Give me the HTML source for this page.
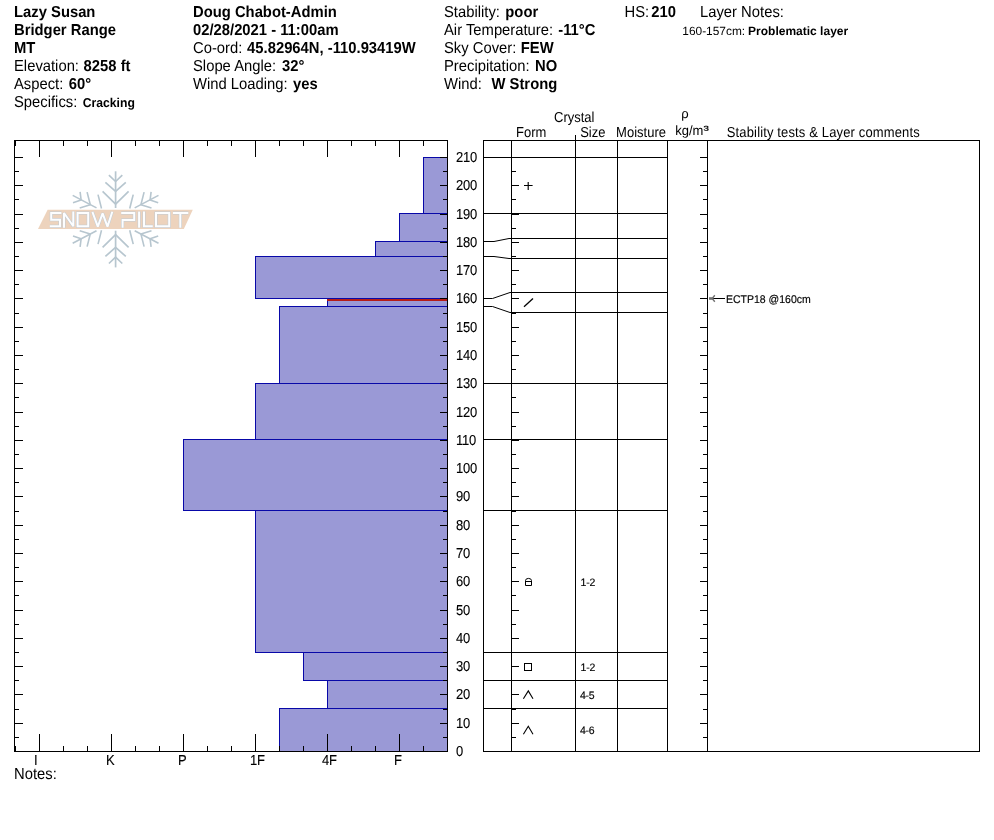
<!DOCTYPE html>
<html><head><meta charset="utf-8"><title>Snow Pilot profile</title>
<style>
html,body{margin:0;padding:0;background:#fff;}
body{width:994px;height:840px;overflow:hidden;}
svg{display:block;font-family:"Liberation Sans",sans-serif;text-rendering:geometricPrecision;will-change:transform;}
svg text{fill:#000;}
</style></head><body>
<svg width="994" height="840" viewBox="0 0 994 840">
<rect x="0" y="0" width="994" height="840" fill="#ffffff"/>
<text transform="translate(14,16.7) scale(1,1.07)" font-size="14.8" font-weight="bold">Lazy Susan</text>
<text transform="translate(14,34.7) scale(1,1.07)" font-size="14.8" font-weight="bold">Bridger Range</text>
<text transform="translate(14,52.7) scale(1,1.07)" font-size="14.8" font-weight="bold">MT</text>
<text transform="translate(14,70.7) scale(1,1.07)" font-size="14.8">Elevation:</text>
<text transform="translate(83.6,70.7) scale(1,1.07)" font-size="14.8" font-weight="bold">8258 ft</text>
<text transform="translate(14,88.7) scale(1,1.07)" font-size="14.8">Aspect:</text>
<text transform="translate(68.8,88.7) scale(1,1.07)" font-size="14.8" font-weight="bold">60°</text>
<text transform="translate(14,106.7) scale(1,1.07)" font-size="14.8">Specifics:</text>
<text transform="translate(82.7,106.7) scale(1,1.05)" font-size="12.2" font-weight="bold">Cracking</text>
<text transform="translate(193,16.7) scale(1,1.07)" font-size="14.8" font-weight="bold">Doug Chabot-Admin</text>
<text transform="translate(193,34.7) scale(1,1.07)" font-size="14.8" font-weight="bold">02/28/2021 - 11:00am</text>
<text transform="translate(193,52.7) scale(1,1.07)" font-size="14.8">Co-ord:</text>
<text transform="translate(247.1,52.7) scale(1,1.07)" font-size="14.8" font-weight="bold">45.82964N, -110.93419W</text>
<text transform="translate(193,70.7) scale(1,1.07)" font-size="14.8">Slope Angle:</text>
<text transform="translate(282.1,70.7) scale(1,1.07)" font-size="14.8" font-weight="bold">32°</text>
<text transform="translate(193,88.7) scale(1,1.07)" font-size="14.8">Wind Loading:</text>
<text transform="translate(293,88.7) scale(1,1.07)" font-size="14.8" font-weight="bold">yes</text>
<text transform="translate(444,16.7) scale(1,1.07)" font-size="14.8">Stability:</text>
<text transform="translate(505.3,16.7) scale(1,1.07)" font-size="14.8" font-weight="bold">poor</text>
<text transform="translate(444,34.7) scale(1,1.07)" font-size="14.8">Air Temperature:</text>
<text transform="translate(558.2,34.7) scale(1,1.07)" font-size="14.8" font-weight="bold">-11°C</text>
<text transform="translate(444,52.7) scale(1,1.07)" font-size="14.8">Sky Cover:</text>
<text transform="translate(520.8,52.7) scale(1,1.07)" font-size="14.8" font-weight="bold">FEW</text>
<text transform="translate(444,70.7) scale(1,1.07)" font-size="14.8">Precipitation:</text>
<text transform="translate(535.1,70.7) scale(1,1.07)" font-size="14.8" font-weight="bold">NO</text>
<text transform="translate(444,88.7) scale(1,1.07)" font-size="14.8">Wind:</text>
<text transform="translate(491.5,88.7) scale(1,1.07)" font-size="14.8" font-weight="bold">W Strong</text>
<text transform="translate(624.5,16.7) scale(1,1.07)" font-size="14.8">HS:</text>
<text transform="translate(651.2,16.7) scale(1,1.07)" font-size="14.8" font-weight="bold">210</text>
<text transform="translate(700,16.7) scale(1,1.07)" font-size="14.8">Layer Notes:</text>
<text transform="translate(682.3,34.7) scale(1,1.0)" font-size="11.9">160-157cm:</text>
<text transform="translate(748.1,34.7) scale(1,1.0)" font-size="12" font-weight="bold">Problematic layer</text>
<text transform="translate(554,122) scale(1,1.11)" font-size="13">Crystal</text>
<text transform="translate(516,137) scale(1,1.11)" font-size="13">Form</text>
<text transform="translate(580.2,137) scale(1,1.11)" font-size="13">Size</text>
<text transform="translate(616.1,137) scale(1,1.11)" font-size="13">Moisture</text>
<text transform="translate(681.3,118.2) scale(1,1.0)" font-size="13">ρ</text>
<text transform="translate(675.2,135) scale(1,1.04)" font-size="13">kg/m</text>
<text transform="translate(703.6,133.6) scale(1.28,0.95)" font-size="12.5" stroke="#000" stroke-width="0.2">³</text>
<text transform="translate(726.8,137) scale(1,1.11)" font-size="13" letter-spacing="0.14">Stability tests &amp; Layer comments</text>
<g id="logo">
<path d="M115.6,171.3 L115.6,208.0" stroke="#b7c6cf" stroke-width="1.7" fill="none" stroke-linecap="butt" stroke-linejoin="round"/>
<path d="M115.6,267.4 L115.6,230.7" stroke="#b7c6cf" stroke-width="1.7" fill="none" stroke-linecap="butt" stroke-linejoin="round"/>
<path d="M108.9,175.2 L115.6,181.5 L122.3,175.2" stroke="#b7c6cf" stroke-width="1.7" fill="none" stroke-linecap="butt" stroke-linejoin="round"/>
<path d="M108.9,263.5 L115.6,257.2 L122.3,263.5" stroke="#b7c6cf" stroke-width="1.7" fill="none" stroke-linecap="butt" stroke-linejoin="round"/>
<path d="M105.4,182.3 L115.6,191.4 L125.8,182.3" stroke="#b7c6cf" stroke-width="1.7" fill="none" stroke-linecap="butt" stroke-linejoin="round"/>
<path d="M105.4,256.4 L115.6,247.3 L125.8,256.4" stroke="#b7c6cf" stroke-width="1.7" fill="none" stroke-linecap="butt" stroke-linejoin="round"/>
<path d="M102.6,191.4 L115.6,204.1 L128.6,191.4" stroke="#b7c6cf" stroke-width="1.7" fill="none" stroke-linecap="butt" stroke-linejoin="round"/>
<path d="M102.6,247.3 L115.6,234.6 L128.6,247.3" stroke="#b7c6cf" stroke-width="1.7" fill="none" stroke-linecap="butt" stroke-linejoin="round"/>
<path d="M72.7,195.4 L96.5,207.9" stroke="#b7c6cf" stroke-width="1.6" fill="none" stroke-linecap="butt" stroke-linejoin="round"/>
<path d="M72.7,243.3 L96.5,230.8" stroke="#b7c6cf" stroke-width="1.6" fill="none" stroke-linecap="butt" stroke-linejoin="round"/>
<path d="M158.5,195.4 L134.7,207.9" stroke="#b7c6cf" stroke-width="1.6" fill="none" stroke-linecap="butt" stroke-linejoin="round"/>
<path d="M158.5,243.3 L134.7,230.8" stroke="#b7c6cf" stroke-width="1.6" fill="none" stroke-linecap="butt" stroke-linejoin="round"/>
<path d="M80.1,191.8 L81.1,199.9 L73.0,202.7" stroke="#b7c6cf" stroke-width="1.6" fill="none" stroke-linecap="butt" stroke-linejoin="round"/>
<path d="M80.1,246.9 L81.1,238.8 L73.0,236.0" stroke="#b7c6cf" stroke-width="1.6" fill="none" stroke-linecap="butt" stroke-linejoin="round"/>
<path d="M151.1,191.8 L150.1,199.9 L158.2,202.7" stroke="#b7c6cf" stroke-width="1.6" fill="none" stroke-linecap="butt" stroke-linejoin="round"/>
<path d="M151.1,246.9 L150.1,238.8 L158.2,236.0" stroke="#b7c6cf" stroke-width="1.6" fill="none" stroke-linecap="butt" stroke-linejoin="round"/>
<path d="M87.1,192.1 L90.3,204.8 L79.7,208.0" stroke="#b7c6cf" stroke-width="1.6" fill="none" stroke-linecap="butt" stroke-linejoin="round"/>
<path d="M87.1,246.6 L90.3,233.9 L79.7,230.7" stroke="#b7c6cf" stroke-width="1.6" fill="none" stroke-linecap="butt" stroke-linejoin="round"/>
<path d="M144.1,192.1 L140.9,204.8 L151.5,208.0" stroke="#b7c6cf" stroke-width="1.6" fill="none" stroke-linecap="butt" stroke-linejoin="round"/>
<path d="M144.1,246.6 L140.9,233.9 L151.5,230.7" stroke="#b7c6cf" stroke-width="1.6" fill="none" stroke-linecap="butt" stroke-linejoin="round"/>
<path d="M98.0,194.6 L101.5,208.5" stroke="#b7c6cf" stroke-width="1.6" fill="none" stroke-linecap="butt" stroke-linejoin="round"/>
<path d="M98.0,244.1 L101.5,230.2" stroke="#b7c6cf" stroke-width="1.6" fill="none" stroke-linecap="butt" stroke-linejoin="round"/>
<path d="M133.2,194.6 L129.7,208.5" stroke="#b7c6cf" stroke-width="1.6" fill="none" stroke-linecap="butt" stroke-linejoin="round"/>
<path d="M133.2,244.1 L129.7,230.2" stroke="#b7c6cf" stroke-width="1.6" fill="none" stroke-linecap="butt" stroke-linejoin="round"/>
<polygon points="47.6,209.7 192.8,209.7 183.8,229 38,229" fill="#edd3bd"/>
<path d="M61.4,213.0 H51.2 V219.7 H60.0 V226.3 H49.8" stroke="#c0ccd6" stroke-width="3.0" fill="none" stroke-linejoin="miter" stroke-miterlimit="1.5"/>
<path d="M64.0,227.70000000000002 V213.0 L73.3,226.3 V211.6" stroke="#c0ccd6" stroke-width="3.0" fill="none" stroke-linejoin="miter" stroke-miterlimit="1.5"/>
<path d="M77.6,213.0 H88.2 V226.3 H77.6 Z" stroke="#c0ccd6" stroke-width="3.0" fill="none" stroke-linejoin="miter" stroke-miterlimit="1.5"/>
<path d="M92.4,211.8 L97.8,226.60000000000002 L102.6,213.3 L107.5,226.60000000000002 L112.3,211.8" stroke="#c0ccd6" stroke-width="3.0" fill="none" stroke-linejoin="miter" stroke-miterlimit="1.5"/>
<path d="M121.2,213.0 H134.2 V220.0 H122.6 V227.70000000000002" stroke="#c0ccd6" stroke-width="3.0" fill="none" stroke-linejoin="miter" stroke-miterlimit="1.5"/>
<path d="M139.1,211.6 V227.70000000000002" stroke="#c0ccd6" stroke-width="3.0" fill="none" stroke-linejoin="miter" stroke-miterlimit="1.5"/>
<path d="M144.0,211.6 V226.3 H152.8" stroke="#c0ccd6" stroke-width="3.0" fill="none" stroke-linejoin="miter" stroke-miterlimit="1.5"/>
<path d="M156.0,213.0 H169.2 V226.3 H156.0 Z" stroke="#c0ccd6" stroke-width="3.0" fill="none" stroke-linejoin="miter" stroke-miterlimit="1.5"/>
<path d="M172.9,213.0 H188.3 M180.3,213.0 V227.70000000000002" stroke="#c0ccd6" stroke-width="3.0" fill="none" stroke-linejoin="miter" stroke-miterlimit="1.5"/>
<path d="M61.4,213.0 H51.2 V219.7 H60.0 V226.3 H49.8" stroke="#fdfeff" stroke-width="2.0" fill="none" stroke-linejoin="miter" stroke-miterlimit="1.5"/>
<path d="M64.0,227.70000000000002 V213.0 L73.3,226.3 V211.6" stroke="#fdfeff" stroke-width="2.0" fill="none" stroke-linejoin="miter" stroke-miterlimit="1.5"/>
<path d="M77.6,213.0 H88.2 V226.3 H77.6 Z" stroke="#fdfeff" stroke-width="2.0" fill="none" stroke-linejoin="miter" stroke-miterlimit="1.5"/>
<path d="M92.4,211.8 L97.8,226.60000000000002 L102.6,213.3 L107.5,226.60000000000002 L112.3,211.8" stroke="#fdfeff" stroke-width="2.0" fill="none" stroke-linejoin="miter" stroke-miterlimit="1.5"/>
<path d="M121.2,213.0 H134.2 V220.0 H122.6 V227.70000000000002" stroke="#fdfeff" stroke-width="2.0" fill="none" stroke-linejoin="miter" stroke-miterlimit="1.5"/>
<path d="M139.1,211.6 V227.70000000000002" stroke="#fdfeff" stroke-width="2.0" fill="none" stroke-linejoin="miter" stroke-miterlimit="1.5"/>
<path d="M144.0,211.6 V226.3 H152.8" stroke="#fdfeff" stroke-width="2.0" fill="none" stroke-linejoin="miter" stroke-miterlimit="1.5"/>
<path d="M156.0,213.0 H169.2 V226.3 H156.0 Z" stroke="#fdfeff" stroke-width="2.0" fill="none" stroke-linejoin="miter" stroke-miterlimit="1.5"/>
<path d="M172.9,213.0 H188.3 M180.3,213.0 V227.70000000000002" stroke="#fdfeff" stroke-width="2.0" fill="none" stroke-linejoin="miter" stroke-miterlimit="1.5"/>
</g>
<g shape-rendering="crispEdges">
<rect x="423" y="157" width="24" height="56" fill="#9a99d6"/>
<rect x="399" y="213" width="48" height="28" fill="#9a99d6"/>
<rect x="375" y="241" width="72" height="15" fill="#9a99d6"/>
<rect x="255" y="256" width="192" height="42" fill="#9a99d6"/>
<rect x="327" y="298" width="120" height="8" fill="#9a99d6"/>
<rect x="279" y="306" width="168" height="77" fill="#9a99d6"/>
<rect x="255" y="383" width="192" height="56" fill="#9a99d6"/>
<rect x="183" y="439" width="264" height="71" fill="#9a99d6"/>
<rect x="255" y="510" width="192" height="142" fill="#9a99d6"/>
<rect x="303" y="652" width="144" height="28" fill="#9a99d6"/>
<rect x="327" y="680" width="120" height="28" fill="#9a99d6"/>
<rect x="279" y="708" width="168" height="43" fill="#9a99d6"/>
<rect x="423" y="157" width="25" height="1" fill="#0808a8"/>
<rect x="423" y="213" width="25" height="1" fill="#0808a8"/>
<rect x="423" y="157" width="1" height="57" fill="#0808a8"/>
<rect x="399" y="213" width="49" height="1" fill="#0808a8"/>
<rect x="399" y="241" width="49" height="1" fill="#0808a8"/>
<rect x="399" y="213" width="1" height="29" fill="#0808a8"/>
<rect x="375" y="241" width="73" height="1" fill="#0808a8"/>
<rect x="375" y="256" width="73" height="1" fill="#0808a8"/>
<rect x="375" y="241" width="1" height="16" fill="#0808a8"/>
<rect x="255" y="256" width="193" height="1" fill="#0808a8"/>
<rect x="255" y="298" width="193" height="1" fill="#0808a8"/>
<rect x="255" y="256" width="1" height="43" fill="#0808a8"/>
<rect x="327" y="298" width="121" height="1" fill="#0808a8"/>
<rect x="327" y="306" width="121" height="1" fill="#0808a8"/>
<rect x="327" y="298" width="1" height="9" fill="#0808a8"/>
<rect x="279" y="306" width="169" height="1" fill="#0808a8"/>
<rect x="279" y="383" width="169" height="1" fill="#0808a8"/>
<rect x="279" y="306" width="1" height="78" fill="#0808a8"/>
<rect x="255" y="383" width="193" height="1" fill="#0808a8"/>
<rect x="255" y="439" width="193" height="1" fill="#0808a8"/>
<rect x="255" y="383" width="1" height="57" fill="#0808a8"/>
<rect x="183" y="439" width="265" height="1" fill="#0808a8"/>
<rect x="183" y="510" width="265" height="1" fill="#0808a8"/>
<rect x="183" y="439" width="1" height="72" fill="#0808a8"/>
<rect x="255" y="510" width="193" height="1" fill="#0808a8"/>
<rect x="255" y="652" width="193" height="1" fill="#0808a8"/>
<rect x="255" y="510" width="1" height="143" fill="#0808a8"/>
<rect x="303" y="652" width="145" height="1" fill="#0808a8"/>
<rect x="303" y="680" width="145" height="1" fill="#0808a8"/>
<rect x="303" y="652" width="1" height="29" fill="#0808a8"/>
<rect x="327" y="680" width="121" height="1" fill="#0808a8"/>
<rect x="327" y="708" width="121" height="1" fill="#0808a8"/>
<rect x="327" y="680" width="1" height="29" fill="#0808a8"/>
<rect x="279" y="708" width="169" height="1" fill="#0808a8"/>
<rect x="279" y="751" width="169" height="1" fill="#0808a8"/>
<rect x="279" y="708" width="1" height="44" fill="#0808a8"/>
<rect x="327" y="299" width="120" height="2" fill="#b41c18"/>
<rect x="14" y="140" width="434" height="1" fill="#000"/>
<rect x="14" y="751" width="434" height="1" fill="#000"/>
<rect x="14" y="140" width="1" height="612" fill="#000"/>
<rect x="447" y="140" width="1" height="612" fill="#000"/>
<rect x="15" y="140" width="1" height="6" fill="#000"/>
<rect x="15" y="746" width="1" height="6" fill="#000"/>
<rect x="39" y="140" width="1" height="17" fill="#000"/>
<rect x="39" y="734" width="1" height="18" fill="#000"/>
<rect x="63" y="140" width="1" height="6" fill="#000"/>
<rect x="63" y="746" width="1" height="6" fill="#000"/>
<rect x="87" y="140" width="1" height="6" fill="#000"/>
<rect x="87" y="746" width="1" height="6" fill="#000"/>
<rect x="111" y="140" width="1" height="17" fill="#000"/>
<rect x="111" y="734" width="1" height="18" fill="#000"/>
<rect x="135" y="140" width="1" height="6" fill="#000"/>
<rect x="135" y="746" width="1" height="6" fill="#000"/>
<rect x="159" y="140" width="1" height="6" fill="#000"/>
<rect x="159" y="746" width="1" height="6" fill="#000"/>
<rect x="183" y="140" width="1" height="17" fill="#000"/>
<rect x="183" y="734" width="1" height="18" fill="#000"/>
<rect x="207" y="140" width="1" height="6" fill="#000"/>
<rect x="207" y="746" width="1" height="6" fill="#000"/>
<rect x="231" y="140" width="1" height="6" fill="#000"/>
<rect x="231" y="746" width="1" height="6" fill="#000"/>
<rect x="255" y="140" width="1" height="17" fill="#000"/>
<rect x="255" y="734" width="1" height="18" fill="#000"/>
<rect x="279" y="140" width="1" height="6" fill="#000"/>
<rect x="279" y="746" width="1" height="6" fill="#000"/>
<rect x="303" y="140" width="1" height="6" fill="#000"/>
<rect x="303" y="746" width="1" height="6" fill="#000"/>
<rect x="327" y="140" width="1" height="17" fill="#000"/>
<rect x="327" y="734" width="1" height="18" fill="#000"/>
<rect x="351" y="140" width="1" height="6" fill="#000"/>
<rect x="351" y="746" width="1" height="6" fill="#000"/>
<rect x="375" y="140" width="1" height="6" fill="#000"/>
<rect x="375" y="746" width="1" height="6" fill="#000"/>
<rect x="399" y="140" width="1" height="17" fill="#000"/>
<rect x="399" y="734" width="1" height="18" fill="#000"/>
<rect x="423" y="140" width="1" height="6" fill="#000"/>
<rect x="423" y="746" width="1" height="6" fill="#000"/>
<rect x="447" y="140" width="1" height="6" fill="#000"/>
<rect x="447" y="746" width="1" height="6" fill="#000"/>
<rect x="14" y="751" width="9" height="1" fill="#000"/>
<rect x="440" y="751" width="8" height="1" fill="#000"/>
<rect x="14" y="737" width="5" height="1" fill="#000"/>
<rect x="443" y="737" width="5" height="1" fill="#000"/>
<rect x="14" y="723" width="9" height="1" fill="#000"/>
<rect x="440" y="723" width="8" height="1" fill="#000"/>
<rect x="14" y="709" width="5" height="1" fill="#000"/>
<rect x="443" y="709" width="5" height="1" fill="#000"/>
<rect x="14" y="694" width="9" height="1" fill="#000"/>
<rect x="440" y="694" width="8" height="1" fill="#000"/>
<rect x="14" y="680" width="5" height="1" fill="#000"/>
<rect x="443" y="680" width="5" height="1" fill="#000"/>
<rect x="14" y="666" width="9" height="1" fill="#000"/>
<rect x="440" y="666" width="8" height="1" fill="#000"/>
<rect x="14" y="652" width="5" height="1" fill="#000"/>
<rect x="443" y="652" width="5" height="1" fill="#000"/>
<rect x="14" y="638" width="9" height="1" fill="#000"/>
<rect x="440" y="638" width="8" height="1" fill="#000"/>
<rect x="14" y="624" width="5" height="1" fill="#000"/>
<rect x="443" y="624" width="5" height="1" fill="#000"/>
<rect x="14" y="610" width="9" height="1" fill="#000"/>
<rect x="440" y="610" width="8" height="1" fill="#000"/>
<rect x="14" y="595" width="5" height="1" fill="#000"/>
<rect x="443" y="595" width="5" height="1" fill="#000"/>
<rect x="14" y="581" width="9" height="1" fill="#000"/>
<rect x="440" y="581" width="8" height="1" fill="#000"/>
<rect x="14" y="567" width="5" height="1" fill="#000"/>
<rect x="443" y="567" width="5" height="1" fill="#000"/>
<rect x="14" y="553" width="9" height="1" fill="#000"/>
<rect x="440" y="553" width="8" height="1" fill="#000"/>
<rect x="14" y="539" width="5" height="1" fill="#000"/>
<rect x="443" y="539" width="5" height="1" fill="#000"/>
<rect x="14" y="525" width="9" height="1" fill="#000"/>
<rect x="440" y="525" width="8" height="1" fill="#000"/>
<rect x="14" y="511" width="5" height="1" fill="#000"/>
<rect x="443" y="511" width="5" height="1" fill="#000"/>
<rect x="14" y="496" width="9" height="1" fill="#000"/>
<rect x="440" y="496" width="8" height="1" fill="#000"/>
<rect x="14" y="482" width="5" height="1" fill="#000"/>
<rect x="443" y="482" width="5" height="1" fill="#000"/>
<rect x="14" y="468" width="9" height="1" fill="#000"/>
<rect x="440" y="468" width="8" height="1" fill="#000"/>
<rect x="14" y="454" width="5" height="1" fill="#000"/>
<rect x="443" y="454" width="5" height="1" fill="#000"/>
<rect x="14" y="440" width="9" height="1" fill="#000"/>
<rect x="440" y="440" width="8" height="1" fill="#000"/>
<rect x="14" y="426" width="5" height="1" fill="#000"/>
<rect x="443" y="426" width="5" height="1" fill="#000"/>
<rect x="14" y="412" width="9" height="1" fill="#000"/>
<rect x="440" y="412" width="8" height="1" fill="#000"/>
<rect x="14" y="397" width="5" height="1" fill="#000"/>
<rect x="443" y="397" width="5" height="1" fill="#000"/>
<rect x="14" y="383" width="9" height="1" fill="#000"/>
<rect x="440" y="383" width="8" height="1" fill="#000"/>
<rect x="14" y="369" width="5" height="1" fill="#000"/>
<rect x="443" y="369" width="5" height="1" fill="#000"/>
<rect x="14" y="355" width="9" height="1" fill="#000"/>
<rect x="440" y="355" width="8" height="1" fill="#000"/>
<rect x="14" y="341" width="5" height="1" fill="#000"/>
<rect x="443" y="341" width="5" height="1" fill="#000"/>
<rect x="14" y="327" width="9" height="1" fill="#000"/>
<rect x="440" y="327" width="8" height="1" fill="#000"/>
<rect x="14" y="313" width="5" height="1" fill="#000"/>
<rect x="443" y="313" width="5" height="1" fill="#000"/>
<rect x="14" y="298" width="9" height="1" fill="#000"/>
<rect x="440" y="298" width="8" height="1" fill="#000"/>
<rect x="14" y="284" width="5" height="1" fill="#000"/>
<rect x="443" y="284" width="5" height="1" fill="#000"/>
<rect x="14" y="270" width="9" height="1" fill="#000"/>
<rect x="440" y="270" width="8" height="1" fill="#000"/>
<rect x="14" y="256" width="5" height="1" fill="#000"/>
<rect x="443" y="256" width="5" height="1" fill="#000"/>
<rect x="14" y="242" width="9" height="1" fill="#000"/>
<rect x="440" y="242" width="8" height="1" fill="#000"/>
<rect x="14" y="228" width="5" height="1" fill="#000"/>
<rect x="443" y="228" width="5" height="1" fill="#000"/>
<rect x="14" y="214" width="9" height="1" fill="#000"/>
<rect x="440" y="214" width="8" height="1" fill="#000"/>
<rect x="14" y="199" width="5" height="1" fill="#000"/>
<rect x="443" y="199" width="5" height="1" fill="#000"/>
<rect x="14" y="185" width="9" height="1" fill="#000"/>
<rect x="440" y="185" width="8" height="1" fill="#000"/>
<rect x="14" y="171" width="5" height="1" fill="#000"/>
<rect x="443" y="171" width="5" height="1" fill="#000"/>
<rect x="14" y="157" width="9" height="1" fill="#000"/>
<rect x="440" y="157" width="8" height="1" fill="#000"/>
<rect x="483" y="140" width="497" height="1" fill="#000"/>
<rect x="483" y="751" width="497" height="1" fill="#000"/>
<rect x="483" y="140" width="1" height="612" fill="#000"/>
<rect x="979" y="140" width="1" height="612" fill="#000"/>
<rect x="511" y="140" width="1" height="612" fill="#000"/>
<rect x="575" y="135" width="1" height="617" fill="#000"/>
<rect x="617" y="140" width="1" height="612" fill="#000"/>
<rect x="667" y="140" width="1" height="612" fill="#000"/>
<rect x="707" y="140" width="1" height="612" fill="#000"/>
<rect x="511" y="157" width="157" height="1" fill="#000"/>
<rect x="511" y="213" width="157" height="1" fill="#000"/>
<rect x="511" y="238" width="157" height="1" fill="#000"/>
<rect x="511" y="258" width="157" height="1" fill="#000"/>
<rect x="511" y="292" width="157" height="1" fill="#000"/>
<rect x="511" y="312" width="157" height="1" fill="#000"/>
<rect x="511" y="383" width="157" height="1" fill="#000"/>
<rect x="511" y="439" width="157" height="1" fill="#000"/>
<rect x="511" y="510" width="157" height="1" fill="#000"/>
<rect x="511" y="652" width="157" height="1" fill="#000"/>
<rect x="511" y="680" width="157" height="1" fill="#000"/>
<rect x="511" y="708" width="157" height="1" fill="#000"/>
<rect x="483" y="157" width="29" height="1" fill="#000"/>
<rect x="483" y="213" width="29" height="1" fill="#000"/>
<rect x="483" y="383" width="29" height="1" fill="#000"/>
<rect x="483" y="439" width="29" height="1" fill="#000"/>
<rect x="483" y="510" width="29" height="1" fill="#000"/>
<rect x="483" y="652" width="29" height="1" fill="#000"/>
<rect x="483" y="680" width="29" height="1" fill="#000"/>
<rect x="483" y="708" width="29" height="1" fill="#000"/>
<rect x="511" y="751" width="8" height="1" fill="#000"/>
<rect x="700" y="751" width="8" height="1" fill="#000"/>
<rect x="511" y="737" width="5" height="1" fill="#000"/>
<rect x="703" y="737" width="5" height="1" fill="#000"/>
<rect x="511" y="723" width="8" height="1" fill="#000"/>
<rect x="700" y="723" width="8" height="1" fill="#000"/>
<rect x="511" y="709" width="5" height="1" fill="#000"/>
<rect x="703" y="709" width="5" height="1" fill="#000"/>
<rect x="511" y="694" width="8" height="1" fill="#000"/>
<rect x="700" y="694" width="8" height="1" fill="#000"/>
<rect x="511" y="680" width="5" height="1" fill="#000"/>
<rect x="703" y="680" width="5" height="1" fill="#000"/>
<rect x="511" y="666" width="8" height="1" fill="#000"/>
<rect x="700" y="666" width="8" height="1" fill="#000"/>
<rect x="511" y="652" width="5" height="1" fill="#000"/>
<rect x="703" y="652" width="5" height="1" fill="#000"/>
<rect x="511" y="638" width="8" height="1" fill="#000"/>
<rect x="700" y="638" width="8" height="1" fill="#000"/>
<rect x="511" y="624" width="5" height="1" fill="#000"/>
<rect x="703" y="624" width="5" height="1" fill="#000"/>
<rect x="511" y="610" width="8" height="1" fill="#000"/>
<rect x="700" y="610" width="8" height="1" fill="#000"/>
<rect x="511" y="595" width="5" height="1" fill="#000"/>
<rect x="703" y="595" width="5" height="1" fill="#000"/>
<rect x="511" y="581" width="8" height="1" fill="#000"/>
<rect x="700" y="581" width="8" height="1" fill="#000"/>
<rect x="511" y="567" width="5" height="1" fill="#000"/>
<rect x="703" y="567" width="5" height="1" fill="#000"/>
<rect x="511" y="553" width="8" height="1" fill="#000"/>
<rect x="700" y="553" width="8" height="1" fill="#000"/>
<rect x="511" y="539" width="5" height="1" fill="#000"/>
<rect x="703" y="539" width="5" height="1" fill="#000"/>
<rect x="511" y="525" width="8" height="1" fill="#000"/>
<rect x="700" y="525" width="8" height="1" fill="#000"/>
<rect x="511" y="511" width="5" height="1" fill="#000"/>
<rect x="703" y="511" width="5" height="1" fill="#000"/>
<rect x="511" y="496" width="8" height="1" fill="#000"/>
<rect x="700" y="496" width="8" height="1" fill="#000"/>
<rect x="511" y="482" width="5" height="1" fill="#000"/>
<rect x="703" y="482" width="5" height="1" fill="#000"/>
<rect x="511" y="468" width="8" height="1" fill="#000"/>
<rect x="700" y="468" width="8" height="1" fill="#000"/>
<rect x="511" y="454" width="5" height="1" fill="#000"/>
<rect x="703" y="454" width="5" height="1" fill="#000"/>
<rect x="511" y="440" width="8" height="1" fill="#000"/>
<rect x="700" y="440" width="8" height="1" fill="#000"/>
<rect x="511" y="426" width="5" height="1" fill="#000"/>
<rect x="703" y="426" width="5" height="1" fill="#000"/>
<rect x="511" y="412" width="8" height="1" fill="#000"/>
<rect x="700" y="412" width="8" height="1" fill="#000"/>
<rect x="511" y="397" width="5" height="1" fill="#000"/>
<rect x="703" y="397" width="5" height="1" fill="#000"/>
<rect x="511" y="383" width="8" height="1" fill="#000"/>
<rect x="700" y="383" width="8" height="1" fill="#000"/>
<rect x="511" y="369" width="5" height="1" fill="#000"/>
<rect x="703" y="369" width="5" height="1" fill="#000"/>
<rect x="511" y="355" width="8" height="1" fill="#000"/>
<rect x="700" y="355" width="8" height="1" fill="#000"/>
<rect x="511" y="341" width="5" height="1" fill="#000"/>
<rect x="703" y="341" width="5" height="1" fill="#000"/>
<rect x="511" y="327" width="8" height="1" fill="#000"/>
<rect x="700" y="327" width="8" height="1" fill="#000"/>
<rect x="511" y="313" width="5" height="1" fill="#000"/>
<rect x="703" y="313" width="5" height="1" fill="#000"/>
<rect x="511" y="298" width="8" height="1" fill="#000"/>
<rect x="700" y="298" width="8" height="1" fill="#000"/>
<rect x="511" y="284" width="5" height="1" fill="#000"/>
<rect x="703" y="284" width="5" height="1" fill="#000"/>
<rect x="511" y="270" width="8" height="1" fill="#000"/>
<rect x="700" y="270" width="8" height="1" fill="#000"/>
<rect x="511" y="256" width="5" height="1" fill="#000"/>
<rect x="703" y="256" width="5" height="1" fill="#000"/>
<rect x="511" y="242" width="8" height="1" fill="#000"/>
<rect x="700" y="242" width="8" height="1" fill="#000"/>
<rect x="511" y="228" width="5" height="1" fill="#000"/>
<rect x="703" y="228" width="5" height="1" fill="#000"/>
<rect x="511" y="214" width="8" height="1" fill="#000"/>
<rect x="700" y="214" width="8" height="1" fill="#000"/>
<rect x="511" y="199" width="5" height="1" fill="#000"/>
<rect x="703" y="199" width="5" height="1" fill="#000"/>
<rect x="511" y="185" width="8" height="1" fill="#000"/>
<rect x="700" y="185" width="8" height="1" fill="#000"/>
<rect x="511" y="171" width="5" height="1" fill="#000"/>
<rect x="703" y="171" width="5" height="1" fill="#000"/>
<rect x="511" y="157" width="8" height="1" fill="#000"/>
<rect x="700" y="157" width="8" height="1" fill="#000"/>
<rect x="524" y="663" width="8" height="1" fill="#000"/>
<rect x="524" y="670" width="8" height="1" fill="#000"/>
<rect x="524" y="663" width="1" height="8" fill="#000"/>
<rect x="531" y="663" width="1" height="8" fill="#000"/>
</g>
<path d="M483,241.5 L494,241.5 L509,238.5 L511,238.5" stroke="#000" stroke-width="1" fill="none"/>
<path d="M483,256.5 L494,256.5 L509,258.5 L511,258.5" stroke="#000" stroke-width="1" fill="none"/>
<path d="M483,298.5 L492.5,298.5 L510,292.5 L511,292.5" stroke="#000" stroke-width="1" fill="none"/>
<path d="M483,306.5 L492.5,306.5 L510,312.5 L511,312.5" stroke="#000" stroke-width="1" fill="none"/>
<text transform="translate(456.0,755.9) scale(1,1.11)" font-size="13" letter-spacing="-0.23" stroke="#000" stroke-width="0.1">0</text>
<text transform="translate(456.0,727.9) scale(1,1.11)" font-size="13" letter-spacing="-0.23" stroke="#000" stroke-width="0.1">10</text>
<text transform="translate(456.0,698.9) scale(1,1.11)" font-size="13" letter-spacing="-0.23" stroke="#000" stroke-width="0.1">20</text>
<text transform="translate(456.0,670.9) scale(1,1.11)" font-size="13" letter-spacing="-0.23" stroke="#000" stroke-width="0.1">30</text>
<text transform="translate(456.0,642.9) scale(1,1.11)" font-size="13" letter-spacing="-0.23" stroke="#000" stroke-width="0.1">40</text>
<text transform="translate(456.0,614.9) scale(1,1.11)" font-size="13" letter-spacing="-0.23" stroke="#000" stroke-width="0.1">50</text>
<text transform="translate(456.0,585.9) scale(1,1.11)" font-size="13" letter-spacing="-0.23" stroke="#000" stroke-width="0.1">60</text>
<text transform="translate(456.0,557.9) scale(1,1.11)" font-size="13" letter-spacing="-0.23" stroke="#000" stroke-width="0.1">70</text>
<text transform="translate(456.0,529.9) scale(1,1.11)" font-size="13" letter-spacing="-0.23" stroke="#000" stroke-width="0.1">80</text>
<text transform="translate(456.0,500.9) scale(1,1.11)" font-size="13" letter-spacing="-0.23" stroke="#000" stroke-width="0.1">90</text>
<text transform="translate(456.0,472.9) scale(1,1.11)" font-size="13" letter-spacing="-0.23" stroke="#000" stroke-width="0.1">100</text>
<text transform="translate(456.0,444.9) scale(1,1.11)" font-size="13" letter-spacing="-0.23" stroke="#000" stroke-width="0.1">110</text>
<text transform="translate(456.0,416.9) scale(1,1.11)" font-size="13" letter-spacing="-0.23" stroke="#000" stroke-width="0.1">120</text>
<text transform="translate(456.0,387.9) scale(1,1.11)" font-size="13" letter-spacing="-0.23" stroke="#000" stroke-width="0.1">130</text>
<text transform="translate(456.0,359.9) scale(1,1.11)" font-size="13" letter-spacing="-0.23" stroke="#000" stroke-width="0.1">140</text>
<text transform="translate(456.0,331.9) scale(1,1.11)" font-size="13" letter-spacing="-0.23" stroke="#000" stroke-width="0.1">150</text>
<text transform="translate(456.0,302.9) scale(1,1.11)" font-size="13" letter-spacing="-0.23" stroke="#000" stroke-width="0.1">160</text>
<text transform="translate(456.0,274.9) scale(1,1.11)" font-size="13" letter-spacing="-0.23" stroke="#000" stroke-width="0.1">170</text>
<text transform="translate(456.0,246.9) scale(1,1.11)" font-size="13" letter-spacing="-0.23" stroke="#000" stroke-width="0.1">180</text>
<text transform="translate(456.0,218.9) scale(1,1.11)" font-size="13" letter-spacing="-0.23" stroke="#000" stroke-width="0.1">190</text>
<text transform="translate(456.0,189.9) scale(1,1.11)" font-size="13" letter-spacing="-0.23" stroke="#000" stroke-width="0.1">200</text>
<text transform="translate(456.0,161.9) scale(1,1.11)" font-size="13" letter-spacing="-0.23" stroke="#000" stroke-width="0.1">210</text>
<text transform="translate(34,764.8) scale(1,1.11)" font-size="13" letter-spacing="-0.2" stroke="#000" stroke-width="0.1">I</text>
<text transform="translate(106,764.8) scale(1,1.11)" font-size="13" letter-spacing="-0.2" stroke="#000" stroke-width="0.1">K</text>
<text transform="translate(178,764.8) scale(1,1.11)" font-size="13" letter-spacing="-0.2" stroke="#000" stroke-width="0.1">P</text>
<text transform="translate(250,764.8) scale(1,1.11)" font-size="13" letter-spacing="-0.2" stroke="#000" stroke-width="0.1">1F</text>
<text transform="translate(322,764.8) scale(1,1.11)" font-size="13" letter-spacing="-0.2" stroke="#000" stroke-width="0.1">4F</text>
<text transform="translate(394,764.8) scale(1,1.11)" font-size="13" letter-spacing="-0.2" stroke="#000" stroke-width="0.1">F</text>
<text transform="translate(14,778.7) scale(1,1.07)" font-size="14.8">Notes:</text>
<rect x="524" y="185" width="8.6" height="1" fill="#000"/>
<path d="M528.2,182.1 L528.2,189.9" stroke="#000" stroke-width="1.15" fill="none"/>
<path d="M524,306.7 L533,298.5" stroke="#000" stroke-width="1.3" fill="none"/>
<path d="M523.4,698.8 L528.3,690.9 L533,698.8" stroke="#000" stroke-width="1.1" fill="none"/>
<path d="M523.4,734.2 L528.3,726.3 L533,734.2" stroke="#000" stroke-width="1.1" fill="none"/>
<path d="M525.5,585.5 V580.6 Q525.6,578.4 528.5,578.4 Q531.4,578.4 531.5,580.6 V585.5 Z M525.5,581.5 H531.5" stroke="#000" stroke-width="1" fill="none"/>
<text transform="translate(580.6,585.9) scale(1,1.03)" font-size="10.5" letter-spacing="-0.25" stroke="#000" stroke-width="0.15">1-2</text>
<text transform="translate(580.6,670.9) scale(1,1.03)" font-size="10.5" letter-spacing="-0.25" stroke="#000" stroke-width="0.15">1-2</text>
<text transform="translate(579.9,698.9) scale(1,1.03)" font-size="10.5" letter-spacing="-0.25" stroke="#000" stroke-width="0.15">4-5</text>
<text transform="translate(579.9,734.2) scale(1,1.03)" font-size="10.5" letter-spacing="-0.25" stroke="#000" stroke-width="0.15">4-6</text>
<text transform="translate(726,303.1) scale(1,1.07)" font-size="10.5" stroke="#000" stroke-width="0.15">ECTP18 @160cm</text>
<rect x="713" y="298" width="12" height="1" fill="#000"/>
<path d="M709,298.5 H713.4" stroke="#727272" stroke-width="2.6" fill="none"/>
<path d="M714.8,295.3 L712.2,298.5 L714.8,301.7" stroke="#727272" stroke-width="1.4" fill="none"/>
</svg>
</body></html>
